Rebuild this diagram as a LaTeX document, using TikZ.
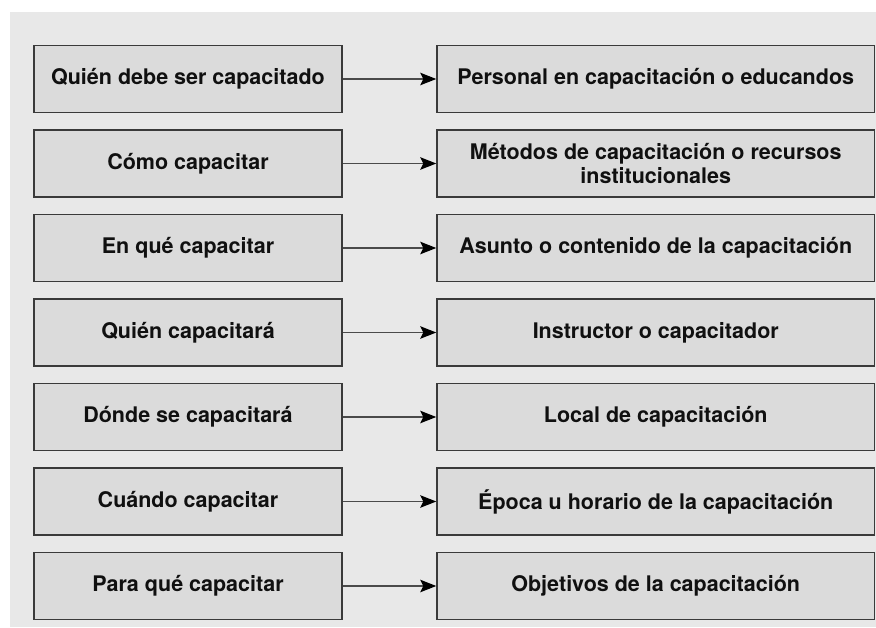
\documentclass[tikz,border=0pt]{standalone}
\usepackage{fontspec}
\setmainfont{TeX Gyre Heros}
\usetikzlibrary{arrows.meta}
\definecolor{panelgray}{HTML}{E8E8E8}
\definecolor{boxgray}{HTML}{DBDBDB}
\definecolor{edgegray}{HTML}{3A3A3A}
\definecolor{linegray}{HTML}{4A4A4A}
\definecolor{textdark}{HTML}{101010}
\tikzset{
  leftbox/.style={draw=edgegray, fill=boxgray, line width=1.5pt, minimum width=308pt, minimum height=67pt, inner sep=0pt, text=textdark, font=\fontsize{21.5}{24}\selectfont\bfseries, align=center},
  rightbox/.style={leftbox, minimum width=437.5pt},
  conn/.style={draw=linegray, line width=1.2pt, -{Stealth[length=16pt,width=12.5pt,inset=3pt,color=black]}}
}
\begin{document}
\begin{tikzpicture}[x=1pt,y=-1pt]
\useasboundingbox (0,0) rectangle (876,627);
\fill[white] (0,0) rectangle (876,627);
\fill[panelgray] (10,12) rectangle (876,627);
\node[leftbox] (l1) at (188,79) {Quién debe ser capacitado};
\node[leftbox] (l2) at (188,163.5) {Cómo capacitar};
\node[leftbox] (l3) at (188,248) {En qué capacitar};
\node[leftbox] (l4) at (188,332.5) {Quién capacitará};
\node[leftbox] (l5) at (188,417) {Dónde se capacitará};
\node[leftbox] (l6) at (188,501.5) {Cuándo capacitar};
\node[leftbox] (l7) at (188,586) {Para qué capacitar};
\node[rightbox] (r1) at (655.75,79) {Personal en capacitación o educandos};
\node[rightbox] (r2) at (655.75,163.5) {Métodos de capacitación o recursos\\institucionales};
\node[rightbox] (r3) at (655.75,248) {Asunto o contenido de la capacitación};
\node[rightbox] (r4) at (655.75,332.5) {Instructor o capacitador};
\node[rightbox] (r5) at (655.75,417) {Local de capacitación};
\node[rightbox] (r6) at (655.75,501.5) {Época u horario de la capacitación};
\node[rightbox] (r7) at (655.75,586) {Objetivos de la capacitación};
\foreach \i in {1,...,7} {\draw[conn] (l\i.east) -- (r\i.west);}
\end{tikzpicture}
\end{document}
